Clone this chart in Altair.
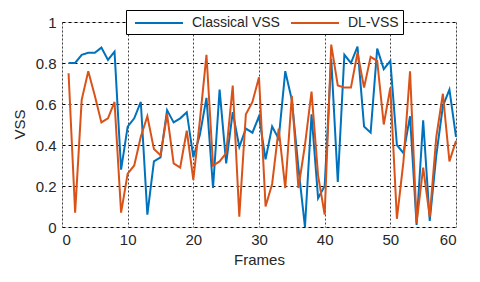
import altair as alt
import pandas as pd

frames = list(range(1, 61))
classical_vss = [0.80, 0.80, 0.84, 0.85, 0.85, 0.875, 0.815, 0.855, 0.28, 0.49,
                 0.53, 0.61, 0.06, 0.32, 0.34, 0.57, 0.51, 0.53, 0.56, 0.34,
                 0.45, 0.63, 0.19, 0.67, 0.31, 0.56, 0.39, 0.48, 0.46, 0.54,
                 0.33, 0.49, 0.43, 0.76, 0.62, 0.29, 0.00, 0.55, 0.14, 0.20,
                 0.82, 0.22, 0.84, 0.80, 0.88, 0.49, 0.46, 0.87, 0.77, 0.81,
                 0.40, 0.36, 0.54, 0.01, 0.52, 0.03, 0.35, 0.59, 0.67, 0.44]
dl_vss = [0.75, 0.07, 0.62, 0.76, 0.64, 0.51, 0.53, 0.61, 0.07, 0.26,
          0.30, 0.44, 0.54, 0.38, 0.35, 0.55, 0.31, 0.29, 0.47, 0.23,
          0.52, 0.84, 0.30, 0.32, 0.36, 0.69, 0.05, 0.55, 0.61, 0.73,
          0.10, 0.21, 0.48, 0.19, 0.64, 0.19, 0.40, 0.66, 0.25, 0.06,
          0.89, 0.69, 0.68, 0.68, 0.85, 0.68, 0.83, 0.81, 0.50, 0.68,
          0.04, 0.32, 0.76, 0.02, 0.29, 0.05, 0.44, 0.65, 0.32, 0.42]
series_names = ["Classical VSS", "DL-VSS"]
series_colors = ["#0072BD", "#D95319"]
x_ticks = [0, 10, 20, 30, 40, 50, 60]
y_ticks = [0, 0.2, 0.4, 0.6, 0.8, 1]

rows = []
for f, a, b in zip(frames, classical_vss, dl_vss):
    rows.append({"Frames": f, "VSS": a, "Series": series_names[0]})
    rows.append({"Frames": f, "VSS": b, "Series": series_names[1]})
df = pd.DataFrame(rows)

FONT = "Liberation Sans"
TXT = "#262626"

chart = alt.Chart(df).mark_line(strokeWidth=2).encode(
    x=alt.X("Frames:Q",
            scale=alt.Scale(domain=[0, 60], nice=False, zero=False),
            axis=alt.Axis(values=x_ticks, title="Frames", grid=True,
                          gridColor="#444444", gridDash=[2, 2], gridWidth=1,
                          domain=False, ticks=False, tickSize=0,
                          labelPadding=5, labelFontSize=15, labelColor=TXT,
                          labelFont=FONT, titleFont=FONT, titleFontSize=15,
                          titleFontWeight="normal", titleColor=TXT,
                          titleX=197, titleY=25)),
    y=alt.Y("VSS:Q",
            scale=alt.Scale(domain=[0, 1], nice=False),
            axis=alt.Axis(values=y_ticks, format="~g", title="VSS", grid=True,
                          gridColor="#000000", gridDash=[3, 3], gridWidth=1,
                          domain=False, ticks=False, tickSize=0,
                          labelPadding=6, labelFontSize=15, labelColor=TXT,
                          labelFont=FONT, titleFont=FONT, titleFontSize=15,
                          titleFontWeight="normal", titleColor=TXT,
                          titleX=-35, titleY=102)),
    color=alt.Color("Series:N",
                    scale=alt.Scale(domain=series_names, range=series_colors),
                    legend=alt.Legend(orient="none", legendX=64, legendY=-12,
                                      direction="horizontal", title=None,
                                      strokeColor="black", fillColor="white",
                                      padding=4, cornerRadius=0,
                                      symbolType="M-1,0H5", symbolSize=256,
                                      symbolStrokeWidth=2, symbolOffset=4,
                                      labelOffset=40, columnPadding=6,
                                      labelFontSize=14, labelFont=FONT,
                                      labelColor=TXT)),
    order=alt.Order("Frames:Q"),
).properties(
    width=394, height=205,
    autosize=alt.AutoSizeParams(type="none"),
    padding={"left": 54, "top": 14, "right": 16, "bottom": 40},
).configure_view(
    stroke="black", strokeWidth=1
).configure(background="white")

chart.save("out.html", embed_options={"renderer": "svg", "actions": False})
